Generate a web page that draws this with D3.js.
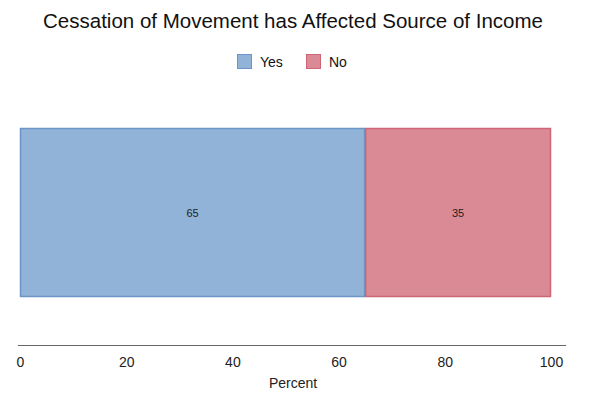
<!DOCTYPE html>
<html><head><meta charset="utf-8">
<script src="https://cdn.jsdelivr.net/npm/d3@7"></script>
<style>body{margin:0;background:#fff}svg{display:block;font-family:"Liberation Sans",Arial,sans-serif}</style>
</head><body>
<svg id="c" width="593" height="395"></svg>
<script>
const categories = ["Yes", "No"];
const values = [65, 35];
const tickValues = [0, 20, 40, 60, 80, 100];
const fills = ["#92b3d8", "#d98a94"];
const strokes = ["#6b95c6", "#cd6576"];

const svg = d3.select("#c");
const x = d3.scaleLinear().domain([0, 100]).range([20, 551]);
const barTop = 128, barBottom = 297;

svg.append("text").attr("x", 293).attr("y", 27.5).attr("text-anchor", "middle")
  .attr("font-size", 20.5).attr("fill", "#111").text("Cessation of Movement has Affected Source of Income");

// legend
const legendX = [237, 306];
categories.forEach((c, i) => {
  const g = svg.append("g").attr("transform", `translate(${legendX[i]},54)`);
  g.append("rect").attr("x", 0.5).attr("y", 0.5).attr("width", 14).attr("height", 14)
    .attr("fill", fills[i]).attr("stroke", strokes[i]).attr("stroke-width", 1);
  g.append("text").attr("x", 23).attr("y", 12.5).attr("font-size", 14).attr("fill", "#111").text(c);
});

// stacked bar
let cum = 0;
const segs = values.map((v, i) => { const s = {cat: categories[i], start: cum, end: cum + v, v, i}; cum += v; return s; });
svg.selectAll("rect.bar").data(segs).join("rect").attr("class", "bar")
  .attr("x", d => x(d.start) + 0.5).attr("y", barTop + 0.5)
  .attr("width", d => x(d.end) - x(d.start) - 1).attr("height", barBottom - barTop - 1)
  .attr("fill", d => fills[d.i]).attr("stroke", d => strokes[d.i]).attr("stroke-width", 1.5);
svg.selectAll("text.lbl").data(segs).join("text").attr("class", "lbl")
  .attr("x", d => x((d.start + d.end) / 2)).attr("y", (barTop + barBottom) / 2 + 4)
  .attr("text-anchor", "middle").attr("font-size", 11).attr("fill", "#222").text(d => d.v);

// axis
svg.append("line").attr("x1", 18).attr("x2", 566).attr("y1", 345.5).attr("y2", 345.5)
  .attr("stroke", "#666").attr("stroke-width", 1.2);
const ax = svg.append("g").attr("transform", "translate(0,345)")
  .call(d3.axisBottom(x).tickValues(tickValues).tickSize(0).tickPadding(12));
ax.select(".domain").remove();
ax.selectAll("text").attr("font-size", 14).attr("fill", "#222").attr("font-family", "Liberation Sans, Arial, sans-serif");

svg.append("text").attr("x", 293).attr("y", 388).attr("text-anchor", "middle")
  .attr("font-size", 14).attr("fill", "#222").text("Percent");
</script>
</body></html>
